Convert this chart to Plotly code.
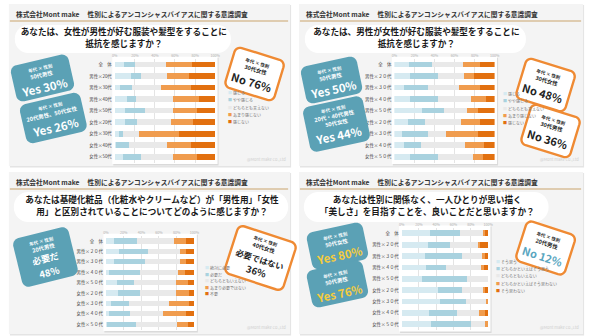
import math
import plotly.graph_objects as go

W, H = 595, 336

# ---------------- data ----------------
categories_a = ["全　体", "男性×20代", "男性×30代", "男性×40代", "男性×50代",
                "女性×20代", "女性×30代", "女性×40代", "女性×50代"]
categories_b = ["全　体", "男性×２０代", "男性×３０代", "男性×４０代", "男性×５０代",
                "女性×２０代", "女性×３０代", "女性×４０代", "女性×５０代"]
pct_ticks = [0, 20, 40, 60, 80, 100]
pct_labels = ["0%", "20%", "40%", "60%", "80%", "100%"]

q1_labels = ["感じる", "やや感じる", "どちらとも言えない", "あまり感じない", "感じない"]
q1_a = [9, 16, 5, 12, 10, 10, 4, 1, 8]
q1_b = [11, 10, 12, 9, 20, 12, 4, 13, 18]
q1_c = [31, 26, 29, 37, 28, 34, 16, 38, 32]
q1_d = [26, 22, 30, 26, 24, 22, 40, 24, 24]
q1_e = [23, 26, 24, 16, 18, 22, 36, 24, 18]

q2_labels = ["感じる", "やや感じる", "どちらとも言えない", "あまり感じない", "感じない"]
q2_a = [15, 16, 10, 16, 28, 14, 8, 10, 16]
q2_b = [23, 28, 24, 28, 22, 17, 26, 17, 28]
q2_c = [30, 25, 30, 32, 22, 35, 18, 43, 34]
q2_d = [17, 10, 21, 15, 11, 19, 31, 19, 10]
q2_e = [15, 21, 15, 9, 17, 15, 17, 11, 12]

q3_labels = ["絶対に必要", "必要だ", "どちらともいえない", "あまり必要ではない", "不要"]
q3_a = [9, 15, 9, 4, 13, 14, 6, 4, 1]
q3_b = [26, 33, 35, 34, 19, 24, 20, 23, 33]
q3_c = [42, 36, 40, 43, 47, 41, 45, 37, 46]
q3_d = [14, 7, 7, 8, 14, 15, 23, 27, 13]
q3_e = [9, 9, 9, 11, 7, 6, 6, 9, 7]

q4_labels = ["そう思う", "どちらかといえばそう思う", "どちらともいえない",
             "どちらかといえばそう思わない", "そう思わない"]
q4_a = [33, 31, 27, 28, 24, 42, 44, 32, 34]
q4_b = [35, 25, 43, 23, 52, 28, 30, 32, 46]
q4_c = [26, 32, 23, 41, 24, 24, 24, 26, 16]
q4_d = [2, 3, 4, 3, 0, 2, 2, 6, 4]
q4_e = [4, 9, 3, 5, 0, 4, 0, 4, 0]

questions = [
    ["あなたは、女性が男性が好む服装や髪型をすることに", "抵抗を感じますか？"],
    ["あなたは、男性が女性が好む服装や髪型をすることに", "抵抗を感じますか？"],
    ["あなたは基礎化粧品（化粧水やクリームなど）が「男性用」「女性",
     "用」と区別されていることについてどのように感じますか？"],
    ["あなたは性別に関係なく、一人ひとりが思い描く",
     "「美しさ」を目指すことを、良いことだと思いますか？"],
]
header_text = "株式会社Mont make　 性別によるアンコンシャスバイアスに関する意識調査"
watermark = "@Mont make Co.,Ltd"

# ---------------- styles ----------------
seg_colors = ["#d6eaf1", "#a9d2df", "#e9e9e9", "#f09c4e", "#e2700f"]
TEAL = "#5ba1b5"
ORANGE = "#ef8a33"
FONT = "Noto Sans CJK JP"
QSIZE = 8.6


def px(x):
    return x / W


def py(y):
    return 1 - y / H


def rrect_path(cx, cy, w, h, r, ang=0.0):
    pts = []
    corners = [(w / 2 - r, -h / 2 + r, -90, 0), (w / 2 - r, h / 2 - r, 0, 90),
               (-w / 2 + r, h / 2 - r, 90, 180), (-w / 2 + r, -h / 2 + r, 180, 270)]
    for ccx, ccy, a0, a1 in corners:
        for k in range(9):
            a = math.radians(a0 + (a1 - a0) * k / 8)
            pts.append((ccx + r * math.cos(a), ccy + r * math.sin(a)))
    th = math.radians(ang)
    out = []
    for x, y in pts:
        xr = cx + x * math.cos(th) - y * math.sin(th)
        yr = cy + x * math.sin(th) + y * math.cos(th)
        out.append((px(xr), py(yr)))
    return "M " + " L ".join(f"{a:.5f},{b:.5f}" for a, b in out) + " Z"


fig = go.Figure()
shapes = []
annotations = []

panels = [(6, 4, 291, 166), (300, 4, 588, 166), (6, 172, 291, 334), (300, 172, 588, 334)]
plots = [(113.3, 215.0, 58.7, 162.5), (396.7, 498.3, 58.7, 162.5),
         (104.3, 194.0, 235.8, 329.5), (404.0, 491.7, 227.6, 330.0)]
bubbles = [(12, 25, 231, 53), (306, 25, 530, 53), (11, 192, 289, 222), (305, 192, 553, 222)]
q_lines_y = [(33, 45), (33, 45), (201, 213), (201, 213)]
legend_pos = [(226, 93, 7.3), (505, 94, 7.3), (203, 268, 6.6), (498, 262, 7.2)]

series = [
    (categories_a, [q1_a, q1_b, q1_c, q1_d, q1_e], q1_labels),
    (categories_b, [q2_a, q2_b, q2_c, q2_d, q2_e], q2_labels),
    (categories_b, [q3_a, q3_b, q3_c, q3_d, q3_e], q3_labels),
    (categories_b, [q4_a, q4_b, q4_c, q4_d, q4_e], q4_labels),
]

q_text, q_x, q_y = [], [], []
layout_axes = {}
for i, (cats, vals, labels) in enumerate(series):
    n = i + 1
    sx = "" if n == 1 else str(n)
    x0, x1, y0, y1 = plots[i]
    # panel background
    pl, pt, pr, pb = panels[i]
    shapes.append(dict(type="rect", xref="paper", yref="paper", x0=px(pl + 1), x1=px(pr + 1),
                       y0=py(pb + 1.5), y1=py(pt + 1), fillcolor="#e4e4e4", line_width=0, layer="below"))
    shapes.append(dict(type="rect", xref="paper", yref="paper", x0=px(pl), x1=px(pr),
                       y0=py(pb), y1=py(pt), fillcolor="#f4f4f4", line_width=0, layer="below"))
    # header line
    hy = pt + 17
    shapes.append(dict(type="line", xref="paper", yref="paper", x0=px(pl + 1), x1=px(pr - 2),
                       y0=py(hy), y1=py(hy), line=dict(color="#caa46c", width=1), layer="below"))
    annotations.append(dict(text="<b>" + header_text + "</b>", x=px(pl + 5), y=py(pt + 10),
                            xref="paper", yref="paper", xanchor="left", yanchor="middle", align="left",
                            showarrow=False, font=dict(size=6.7, color="#333333", family=FONT)))
    # question bubble
    bl, bt, br, bb = bubbles[i]
    bh = bb - bt
    bcx = (bl + br) / 2 + 1
    shapes.append(dict(type="path", xref="paper", yref="paper",
                       path=rrect_path((bl + br) / 2, (bt + bb) / 2, br - bl, bh, bh / 2 - 0.5),
                       fillcolor="#ffffff", line_width=0, layer="below"))
    for line, yy in zip(questions[i], q_lines_y[i]):
        q_text.append("<b>" + line + "</b>")
        q_x.append(bcx)
        q_y.append(yy)
    # plot area background with shadow
    shapes.append(dict(type="rect", xref="paper", yref="paper", x0=px(x0 - 1.5), x1=px(x1 + 3.5),
                       y0=py(y1 + 3), y1=py(y0 - 1), fillcolor="#dadada", line_width=0, layer="below"))
    shapes.append(dict(type="rect", xref="paper", yref="paper", x0=px(x0 - 2.5), x1=px(x1 + 2.5),
                       y0=py(y1 + 1.5), y1=py(y0 - 2), fillcolor="#ffffff", line_width=0, layer="below"))
    # bars
    for k in range(5):
        fig.add_trace(go.Bar(x=vals[k], y=cats, orientation="h", name=labels[k],
                             marker=dict(color=seg_colors[k], line_width=0), width=0.5,
                             xaxis="x" + sx, yaxis="y" + sx, showlegend=False, hoverinfo="skip"))
    layout_axes["xaxis" + sx] = dict(domain=[px(x0), px(x1)], range=[0, 100], side="top",
                                     anchor="y" + sx, tickvals=pct_ticks, ticktext=pct_labels,
                                     tickfont=dict(size=3.6, color="#b0b0b0"), showgrid=True,
                                     gridcolor="#e4e4e4", gridwidth=0.6, zeroline=False,
                                     showline=False, ticks="", fixedrange=True)
    layout_axes["yaxis" + sx] = dict(domain=[py(y1), py(y0)], anchor="x" + sx, type="category",
                                     categoryorder="array", categoryarray=cats,
                                     autorange="reversed", tickfont=dict(size=4.4, color="#444444"),
                                     showgrid=False, zeroline=False, showline=False, ticks="",
                                     ticklabelstandoff=2, fixedrange=True)
    # legend
    lx, ly, ldy = legend_pos[i]
    for k in range(5):
        annotations.append(dict(text=f"<span style='color:{seg_colors[k]}'>■</span> {labels[k]}",
                                x=px(lx), y=py(ly + k * ldy), xref="paper", yref="paper",
                                xanchor="left", yanchor="middle", align="left", showarrow=False,
                                font=dict(size=4, color="#777777", family=FONT)))
    # watermark
    annotations.append(dict(text=watermark, x=px(pr - 24), y=py(pb - 7), xref="paper", yref="paper",
                            xanchor="center", yanchor="middle", showarrow=False,
                            font=dict(size=4, color="#cfcfcf", family=FONT)))

# question texts drawn as a text trace on a full-page pixel axis
fig.add_trace(go.Scatter(x=q_x, y=q_y, text=q_text, mode="text", textposition="middle center",
                         textfont=dict(size=QSIZE, color="#1a1a1a", family=FONT),
                         xaxis="x5", yaxis="y5", showlegend=False, hoverinfo="skip", cliponaxis=False))
layout_axes["xaxis5"] = dict(domain=[0, 1], range=[0, W], visible=False, fixedrange=True, anchor="y5")
layout_axes["yaxis5"] = dict(domain=[0, 1], range=[H, 0], visible=False, fixedrange=True, anchor="x5")

# ---------------- callouts ----------------
SMALL = "年代 × 性別"
BIG = 11.5
callouts = [
    # (cx, cy, w, h, angle, style, [(text, size, color, dy)])
    (40, 78, 60, 37, -13, "teal", [(SMALL, 4.5, "#ffffff", -10), ("50代男性", 5.5, "#ffffff", -3),
                                   ("Yes 30%", BIG, "#ffffff", 9)]),
    (51, 118, 63, 40, -13, "teal", [(SMALL, 4.5, "#ffffff", -12), ("20代男性、50代女性", 5.5, "#ffffff", -4),
                                    ("Yes 26%", BIG, "#ffffff", 9)]),
    (255, 74, 52, 42, 17, "orange", [(SMALL, 4.5, "#222222", -11), ("30代女性", 5.5, "#222222", -4),
                                     ("No 76%", 11, "#222222", 8)]),
    (333, 80, 58, 38, -12, "teal", [(SMALL, 4.5, "#ffffff", -10), ("50代男性", 5.5, "#ffffff", -3),
                                    ("Yes 50%", BIG, "#ffffff", 9)]),
    (338, 124, 62, 46, -12, "teal", [(SMALL, 4.5, "#ffffff", -15), ("20代・40代男性", 5.5, "#ffffff", -8),
                                     ("50代女性", 5.5, "#ffffff", -1), ("Yes 44%", BIG, "#ffffff", 11)]),
    (550, 85, 52, 42, 17, "orange", [(SMALL, 4.5, "#222222", -11), ("30代女性", 5.5, "#222222", -4),
                                     ("No 48%", 11, "#222222", 8)]),
    (555, 131, 52, 42, 17, "orange", [(SMALL, 4.5, "#222222", -11), ("30代男性", 5.5, "#222222", -4),
                                      ("No 36%", 11, "#222222", 8)]),
    (43, 257, 58, 50, -14, "teal", [(SMALL, 4.5, "#ffffff", -16), ("20代男性", 5.5, "#ffffff", -9),
                                    ("必要だ", 9, "#ffffff", 2), ("48%", 9.5, "#ffffff", 15)]),
    (261, 258, 62, 50, 18, "orange", [(SMALL, 4.5, "#222222", -17), ("40代女性", 5.5, "#222222", -10),
                                      ("必要ではない", 8.3, "#222222", 1), ("36%", 9.5, "#222222", 14)]),
    (339, 246, 58, 38, -12, "teal", [(SMALL, 4.5, "#ffffff", -10), ("50代女性", 5.5, "#ffffff", -3),
                                     ("Yes 80%", BIG, "#f6cc3c", 9)]),
    (339, 284, 58, 38, -12, "teal", [(SMALL, 4.5, "#ffffff", -10), ("50代男性", 5.5, "#ffffff", -3),
                                     ("Yes 76%", BIG, "#f6cc3c", 9)]),
    (550, 248, 52, 42, 18, "orange", [(SMALL, 4.5, "#222222", -11), ("20代男性", 5.5, "#222222", -4),
                                      ("No 12%", 11, "#5aa6bf", 8)]),
]

for cx, cy, w, h, ang, style, lines in callouts:
    if style == "teal":
        shapes.append(dict(type="path", xref="paper", yref="paper", path=rrect_path(cx, cy, w, h, 7, ang),
                           fillcolor=TEAL, line_width=0, layer="above"))
    else:
        shapes.append(dict(type="path", xref="paper", yref="paper", path=rrect_path(cx, cy, w, h, 6, ang),
                           fillcolor="#ffffff", line=dict(color=ORANGE, width=2.4), layer="above"))
    th = math.radians(ang)
    for text, size, color, dy in lines:
        tx = cx - dy * math.sin(th)
        ty = cy + dy * math.cos(th)
        annotations.append(dict(text="<b>" + text + "</b>", x=px(tx), y=py(ty), xref="paper", yref="paper",
                                xanchor="center", yanchor="middle", showarrow=False, textangle=ang,
                                font=dict(size=size, color=color, family=FONT)))

fig.update_layout(
    width=W, height=H, margin=dict(l=0, r=0, t=0, b=0),
    paper_bgcolor="#ffffff", plot_bgcolor="rgba(0,0,0,0)",
    barmode="stack", showlegend=False,
    font=dict(family=FONT),
    shapes=shapes, annotations=annotations,
    **layout_axes,
)

fig.write_html("out.html")
